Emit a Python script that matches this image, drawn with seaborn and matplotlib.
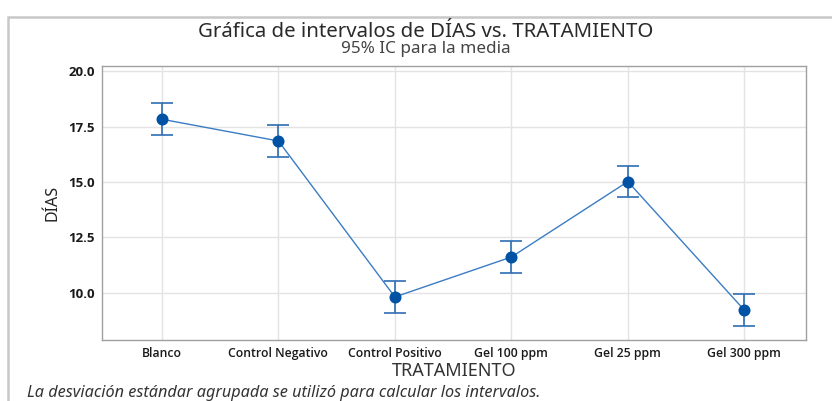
import matplotlib
matplotlib.use("Agg")
import matplotlib.pyplot as plt
from matplotlib.patches import Rectangle
import seaborn as sns
import pandas as pd

tratamientos = ["Blanco", "Control Negativo", "Control Positivo",
                "Gel 100 ppm", "Gel 25 ppm", "Gel 300 ppm"]
medias = [17.83, 16.85, 9.82, 11.62, 15.02, 9.23]
ic_inferior = [17.12, 16.13, 9.10, 10.92, 14.31, 8.51]
ic_superior = [18.55, 17.57, 10.54, 12.34, 15.74, 9.95]
y_ticks = [10.0, 12.5, 15.0, 17.5, 20.0]

df = pd.DataFrame({"TRATAMIENTO": tratamientos, "DÍAS": medias,
                   "lo": ic_inferior, "hi": ic_superior})

sns.set_theme(style="whitegrid")
plt.rcParams["font.family"] = ["Noto Sans", "DejaVu Sans"]

fig = plt.figure(figsize=(8.32, 4.01), dpi=100)
ax = fig.add_axes([102 / 832, 1 - 340 / 401, (806 - 102) / 832, (340 - 66) / 401])

line_col = "#3b7cc4"
dot_col = "#0052a5"

sns.lineplot(data=df, x="TRATAMIENTO", y="DÍAS", ax=ax, color=line_col,
             linewidth=1.0, sort=False, zorder=2)
ax.errorbar(df["TRATAMIENTO"], df["DÍAS"],
            yerr=[df["DÍAS"] - df["lo"], df["hi"] - df["DÍAS"]],
            fmt="none", ecolor="#2f6db3", elinewidth=1.2, capsize=8,
            capthick=1.2, zorder=3)
sns.scatterplot(data=df, x="TRATAMIENTO", y="DÍAS", ax=ax, color=dot_col,
                s=75, edgecolor=dot_col, linewidth=0, zorder=4)

ax.set_xlim(-0.515, 5.53)
ax.set_ylim(7.88, 20.23)
ax.set_yticks(y_ticks)
ax.set_yticklabels([f"{v:.1f}" for v in y_ticks])
ax.grid(True, color="#e3e3e3", linewidth=1.0)
ax.set_facecolor("white")
for s in ax.spines.values():
    s.set_color("#a0a0a0")
    s.set_linewidth(1.0)
ax.tick_params(axis="both", length=0, pad=5, colors="#222222")
for lab in ax.get_xticklabels():
    lab.set_family(["Open Sans", "DejaVu Sans"])
    lab.set_fontsize(8.8)
    lab.set_fontweight("semibold")
    lab.set_color("#1a1a1a")
for lab in ax.get_yticklabels():
    lab.set_family(["Open Sans", "DejaVu Sans"])
    lab.set_fontsize(9.5)
    lab.set_fontweight("bold")
    lab.set_color("#1a1a1a")

ax.set_xlabel("TRATAMIENTO", fontsize=13, color="#333333")
ax.set_ylabel("DÍAS", fontsize=11.5, color="#222222")
ax.xaxis.set_label_coords(0.5, -(362 - 340) / 274)
ax.yaxis.set_label_coords(-(102 - 60) / 704, 0.5)

fig.text(426 / 832, 1 - 32 / 401, "Gráfica de intervalos de DÍAS vs. TRATAMIENTO",
         ha="center", va="center", fontsize=14.7, color="#2a2a2a")
fig.text(426 / 832, 1 - 49 / 401, "95% IC para la media",
         ha="center", va="center", fontsize=12.3, color="#444444")
fig.text(27 / 832, 1 - 393 / 401,
         "La desviación estándar agrupada se utilizó para calcular los intervalos.",
         ha="left", va="center", fontsize=11.7, style="italic", color="#333333")

# outer panel frame
fig.patches.append(Rectangle((8 / 832, -0.05), 1.0, 1 - 17 / 401 + 0.05,
                             transform=fig.transFigure, fill=False,
                             edgecolor="#c8c8c8", linewidth=1.8))

fig.savefig("out.png", dpi=100, facecolor="white")
